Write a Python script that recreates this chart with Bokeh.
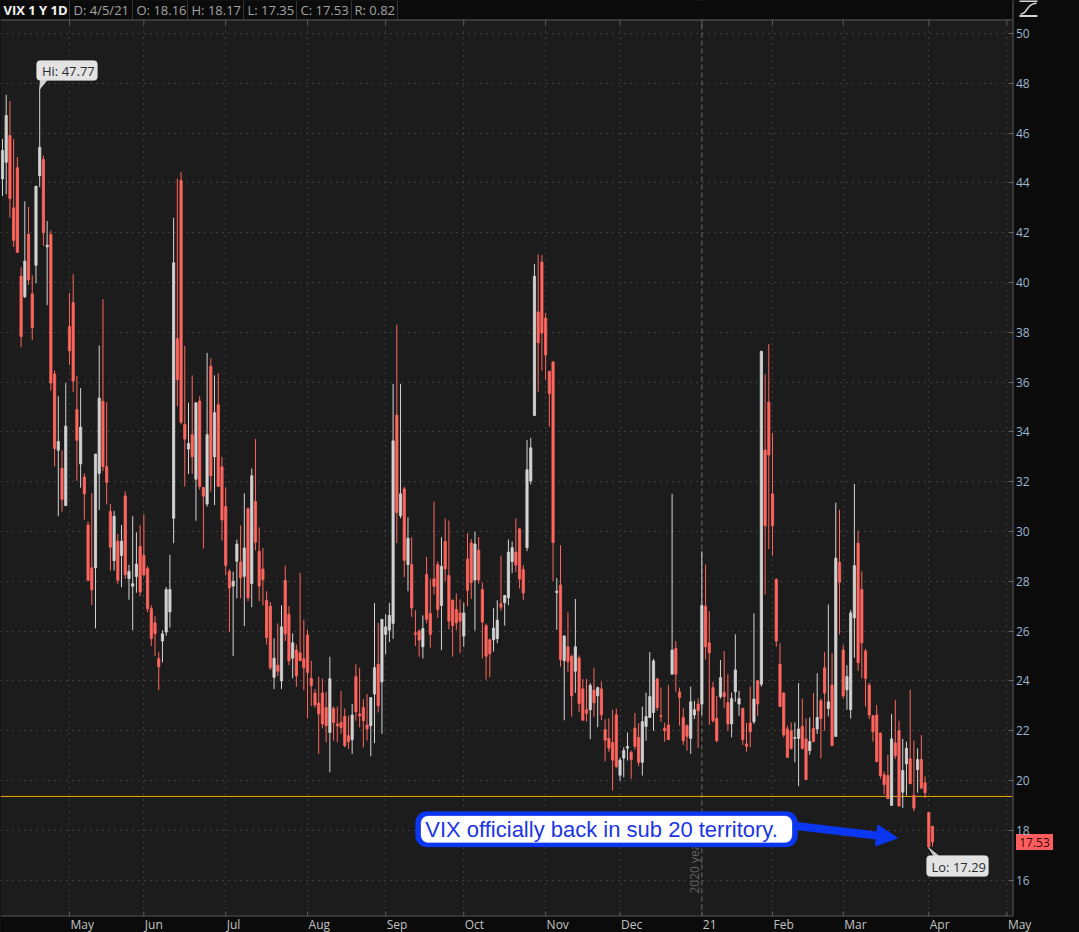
import numpy as np
from bokeh.plotting import figure
from bokeh.models import (ColumnDataSource, LinearAxis, FixedTicker, Grid, Span, BoxAnnotation,
                          Label, Arrow, NormalHead, Range1d, GlobalInlineStyleSheet)
from bokeh.core.properties import value
from bokeh.embed import file_html
from bokeh.resources import INLINE

# ---------------- data (VIX daily, 4/6/2020 .. 4/5/2021) ----------------
opens = [
    44.16, 44.83, 45.90, 43.00, 44.61, 40.26, 39.43, 41.94, 39.54, 40.69,
    44.29, 44.94, 41.43, 41.94, 36.33, 33.26, 32.54, 31.04, 38.23, 39.19,
    34.90, 32.71, 32.19, 30.26, 28.54, 28.54, 32.33, 35.23, 32.61, 30.80,
    28.83, 29.61, 29.04, 31.43, 28.11, 27.80, 28.19, 29.40, 29.04, 28.51,
    26.90, 26.33, 24.89, 25.60, 25.96, 26.77, 30.53, 37.74, 44.10, 34.31,
    33.31, 33.89, 32.10, 35.24, 31.77, 31.10, 36.64, 33.00, 35.09, 32.60,
    31.00, 28.39, 27.81, 28.81, 28.77, 28.20, 30.91, 27.91, 31.20, 29.20,
    28.49, 27.24, 27.00, 24.14, 24.63, 24.00, 28.03, 26.67, 24.91, 25.24,
    25.13, 24.89, 25.84, 24.10, 23.51, 23.11, 23.51, 22.93, 21.93, 22.89,
    22.27, 22.33, 22.57, 21.80, 21.64, 24.17, 22.67, 22.93, 22.23, 22.20,
    23.47, 24.67, 23.96, 25.87, 26.04, 26.31, 34.67, 30.63, 31.71, 28.67,
    28.67, 25.93, 26.00, 25.37, 28.27, 26.71, 28.10, 28.67, 27.03, 29.60,
    28.23, 27.24, 26.87, 26.73, 25.80, 28.89, 29.54, 28.05, 29.25, 27.67,
    26.22, 25.65, 25.65, 25.70, 27.10, 27.14, 27.34, 28.79, 29.17, 30.10,
    28.47, 29.35, 32.03, 34.66, 38.82, 40.82, 38.57, 36.43, 36.81, 27.55,
    27.85, 24.81, 25.37, 24.99, 24.39, 24.92, 23.68, 22.84, 22.84, 23.63,
    23.40, 23.68, 22.04, 21.69, 21.52, 22.64, 20.21, 20.90, 21.30, 21.13,
    22.10, 21.73, 20.73, 22.17, 22.53, 22.73, 24.07, 22.60, 22.10, 22.23,
    24.27, 25.30, 23.56, 22.53, 22.20, 21.69, 22.63, 23.07, 23.07, 27.00,
    25.53, 23.73, 22.49, 23.37, 23.53, 23.13, 22.27, 23.56, 23.07, 22.89,
    21.47, 22.31, 22.36, 24.00, 23.87, 33.27, 35.20, 31.51, 28.07, 24.67,
    23.51, 22.07, 22.00, 21.69, 21.69, 22.17, 21.67, 21.20, 22.09, 22.07,
    23.20, 24.53, 22.89, 23.83, 21.77, 28.76, 25.24, 23.64, 22.84, 26.53,
    29.53, 27.67, 25.20, 23.83, 22.60, 22.63, 21.90, 20.23, 20.20, 19.00,
    21.51, 22.00, 19.53, 20.67, 20.87, 19.40, 20.44, 20.84, 19.91, 18.71,
    18.16,
]
highs = [
    45.76, 47.54, 47.29, 45.76, 45.04, 40.61, 43.26, 43.04, 40.29, 43.87,
    47.77, 45.09, 42.47, 42.09, 36.47, 35.43, 33.26, 35.97, 39.57, 40.33,
    36.26, 35.76, 32.33, 30.40, 31.54, 33.11, 37.47, 39.33, 35.19, 31.11,
    30.83, 29.90, 30.26, 31.61, 28.66, 30.61, 29.97, 30.26, 30.69, 28.61,
    27.04, 26.60, 25.17, 26.03, 27.77, 29.06, 42.60, 44.17, 44.43, 37.46,
    35.17, 36.27, 35.17, 35.43, 31.77, 37.17, 36.96, 36.27, 36.36, 33.00,
    31.77, 28.49, 28.39, 29.67, 30.24, 31.53, 30.96, 32.53, 33.71, 30.17,
    29.34, 27.60, 27.17, 25.71, 26.31, 27.03, 28.63, 27.00, 25.91, 25.46,
    28.34, 26.46, 26.06, 24.81, 23.67, 24.17, 24.09, 23.56, 24.97, 22.97,
    22.97, 23.60, 22.89, 22.60, 23.07, 24.67, 24.53, 23.27, 23.47, 23.33,
    27.13, 26.33, 26.49, 26.67, 27.13, 35.93, 38.31, 35.93, 31.80, 30.57,
    29.77, 26.84, 26.07, 26.63, 28.97, 28.10, 31.20, 28.80, 29.77, 30.53,
    30.44, 27.27, 27.51, 27.27, 27.13, 29.93, 29.70, 29.99, 29.78, 27.95,
    26.30, 25.70, 26.92, 27.24, 29.03, 27.45, 29.68, 29.59, 30.52, 30.15,
    28.65, 33.67, 33.76, 40.75, 41.13, 41.10, 38.78, 36.46, 36.85, 28.13,
    29.45, 25.84, 26.75, 25.06, 27.29, 25.03, 24.08, 24.08, 23.91, 24.53,
    23.77, 23.97, 22.46, 22.50, 22.84, 22.88, 20.91, 21.33, 21.93, 21.20,
    22.71, 22.31, 22.97, 23.53, 25.16, 24.89, 24.13, 23.73, 22.33, 23.83,
    31.51, 25.60, 23.73, 22.90, 22.25, 23.77, 23.20, 23.30, 29.20, 28.67,
    26.80, 23.96, 23.40, 24.84, 25.20, 24.27, 23.53, 25.87, 23.60, 22.93,
    22.31, 23.77, 26.71, 24.04, 37.24, 36.31, 37.53, 33.96, 28.13, 25.51,
    23.55, 22.20, 22.33, 22.33, 23.91, 23.29, 22.49, 22.53, 23.51, 24.31,
    23.29, 25.16, 27.07, 25.11, 31.16, 30.87, 25.43, 24.63, 26.84, 31.91,
    30.04, 28.40, 25.29, 23.93, 22.63, 23.03, 21.93, 20.36, 21.03, 22.67,
    23.24, 22.40, 21.67, 21.56, 23.64, 21.60, 21.29, 21.83, 20.17, 18.73,
    18.17,
]
lows = [
    43.47, 43.54, 42.61, 41.43, 41.20, 37.40, 39.37, 39.90, 37.69, 39.97,
    43.83, 41.47, 39.09, 35.66, 32.61, 30.61, 30.80, 31.04, 36.69, 35.61,
    32.04, 31.76, 30.47, 28.00, 27.04, 26.11, 30.86, 32.43, 31.09, 28.43,
    28.43, 27.90, 27.76, 28.11, 27.26, 26.04, 27.54, 27.40, 28.19, 26.76,
    25.40, 25.00, 23.63, 24.74, 25.81, 26.14, 29.53, 35.03, 34.31, 31.81,
    32.31, 32.31, 30.43, 31.67, 29.31, 31.00, 31.60, 31.06, 31.81, 29.63,
    28.24, 25.96, 25.00, 27.31, 27.31, 26.20, 27.20, 26.96, 29.24, 27.20,
    27.03, 25.46, 24.43, 23.67, 24.20, 23.67, 25.60, 24.63, 24.10, 23.77,
    24.81, 23.63, 22.49, 22.99, 22.93, 21.07, 22.09, 21.53, 20.33, 21.60,
    21.53, 21.87, 21.33, 21.27, 21.07, 22.40, 22.13, 21.33, 21.60, 20.97,
    21.50, 22.73, 21.87, 25.07, 25.56, 25.69, 29.53, 30.53, 28.17, 27.60,
    26.57, 25.40, 24.97, 24.90, 26.31, 25.33, 27.47, 26.53, 25.24, 28.00,
    26.07, 24.97, 26.04, 25.11, 25.37, 27.00, 27.29, 26.02, 27.90, 24.90,
    24.05, 24.15, 25.18, 25.51, 26.82, 26.22, 27.04, 28.33, 28.37, 27.71,
    27.24, 29.21, 31.89, 34.66, 35.61, 36.46, 36.10, 34.21, 28.02, 26.05,
    24.57, 22.42, 24.36, 22.56, 23.52, 22.74, 22.42, 22.36, 21.66, 22.56,
    22.14, 22.42, 20.77, 21.15, 19.60, 20.49, 19.99, 20.13, 20.80, 20.07,
    21.24, 20.57, 20.20, 21.60, 22.53, 22.00, 22.80, 22.36, 21.56, 21.64,
    24.27, 23.56, 22.20, 21.43, 21.20, 21.07, 22.47, 21.30, 22.63, 24.87,
    22.23, 22.33, 21.53, 23.29, 22.90, 22.00, 21.73, 23.16, 22.60, 21.43,
    21.16, 21.33, 22.27, 22.60, 23.77, 27.47, 29.29, 29.03, 25.37, 22.97,
    21.73, 20.93, 21.24, 20.73, 19.77, 21.24, 20.04, 21.03, 21.56, 21.87,
    20.89, 22.00, 22.57, 21.40, 21.77, 25.87, 23.30, 22.84, 22.49, 24.93,
    24.40, 24.10, 22.97, 22.47, 21.56, 20.73, 20.07, 19.43, 19.27, 19.00,
    20.87, 18.97, 18.89, 19.40, 19.87, 18.76, 19.51, 19.69, 19.29, 17.29,
    17.35,
]
closes = [
    45.30, 46.71, 43.37, 41.69, 41.21, 37.83, 40.86, 40.11, 38.19, 43.87,
    45.43, 42.00, 41.50, 35.97, 33.33, 33.61, 31.29, 34.23, 37.26, 36.04,
    33.66, 34.19, 31.51, 28.04, 27.66, 33.11, 35.36, 32.61, 31.97, 29.37,
    30.61, 28.04, 29.61, 28.26, 28.40, 27.90, 28.69, 27.57, 28.26, 26.90,
    25.70, 25.89, 24.57, 25.89, 27.67, 27.67, 40.79, 36.10, 34.39, 33.71,
    33.53, 33.00, 35.17, 31.81, 31.42, 33.89, 32.24, 34.77, 31.81, 30.46,
    28.64, 27.74, 28.00, 29.49, 28.14, 29.34, 27.34, 32.24, 29.57, 27.81,
    28.06, 25.74, 24.53, 24.91, 24.39, 26.17, 25.89, 24.81, 25.53, 24.20,
    24.81, 24.53, 24.34, 23.81, 23.03, 22.67, 22.27, 22.20, 24.09, 22.33,
    22.20, 22.13, 21.40, 21.56, 22.63, 22.76, 22.60, 22.40, 22.07, 23.33,
    24.53, 23.00, 26.47, 26.17, 26.63, 33.64, 30.76, 31.51, 28.84, 29.73,
    26.93, 25.87, 25.64, 26.10, 26.47, 25.87, 27.80, 26.87, 28.60, 28.50,
    26.40, 26.23, 26.33, 26.40, 26.73, 27.64, 27.95, 29.50, 28.05, 26.36,
    24.99, 25.09, 26.12, 26.44, 26.96, 27.43, 29.17, 29.35, 28.65, 28.09,
    27.53, 32.48, 33.36, 40.25, 37.58, 37.97, 37.09, 35.54, 29.56, 27.60,
    24.85, 25.80, 24.78, 23.40, 25.37, 23.09, 22.42, 22.70, 23.82, 23.12,
    23.73, 22.64, 21.62, 21.30, 20.82, 20.56, 20.82, 21.20, 21.37, 20.84,
    21.37, 20.73, 22.36, 22.57, 23.37, 24.80, 22.93, 22.57, 22.00, 21.64,
    25.24, 24.27, 23.33, 21.60, 21.77, 23.16, 22.84, 22.80, 27.03, 25.37,
    25.13, 22.40, 21.60, 24.13, 23.37, 22.27, 23.29, 24.44, 23.29, 21.64,
    21.37, 21.96, 23.27, 23.07, 37.24, 30.23, 33.07, 30.23, 25.60, 22.97,
    21.83, 20.93, 21.29, 21.73, 22.07, 21.29, 20.04, 21.56, 21.56, 22.53,
    22.49, 23.51, 23.16, 21.40, 28.93, 27.96, 23.40, 24.17, 26.73, 28.63,
    24.73, 25.53, 24.10, 22.63, 21.96, 20.76, 20.20, 19.83, 19.27, 21.67,
    21.00, 18.97, 20.40, 21.29, 19.87, 18.89, 20.84, 19.69, 19.51, 17.33,
    17.53,
]
# trading-day index of the first session of each month, and the axis labels
month_start_index = [18, 38, 60, 82, 103, 124, 146, 166, 188, 207, 226, 249, 270]
month_labels = ["May", "Jun", "Jul", "Aug", "Sep", "Oct", "Nov", "Dec", "21", "Feb", "Mar", "Apr", "May"]
year_break_index = 188
price_ticks = list(range(16, 51, 2))
support_level = 19.36
symbol_title = "VIX 1 Y 1D"
last_date = "4/5/21"
callout_text = "VIX officially back in sub 20 territory."
year_text = "2020 year"

# ---------------- layout helpers (pixel -> data) ----------------
W, H = 1079, 932
PLOT_RIGHT = 1012     # right edge of the price pane
PLOT_BOTTOM = 915     # bottom edge of the price pane
HEADER_H = 19


def X(px):
    return (px - 2.0) / 3.72


def Y(py):
    return 50.0 - (py - 33.0) / 24.9


FONT = "Open Sans"
UP, DOWN = "#d3d3d3", "#ff665e"
BLUE = "#0b36f2"
DARK = "#0b0b0b"
FRAME_LINE = "#5c5c5c"

p = figure(width=W, height=H, output_backend="svg", toolbar_location=None,
           x_range=Range1d(X(0), X(W)), y_range=Range1d(Y(H), Y(0)),
           x_axis_type=None, y_axis_type=None,
           min_border=0, min_border_left=0, min_border_top=0, min_border_bottom=0,
           min_border_right=0,
           background_fill_color="#1c1c1c", border_fill_color=DARK,
           outline_line_color=None)
p.center = [r for r in p.center if not isinstance(r, Grid)]
p.stylesheets = [GlobalInlineStyleSheet(
    css="html,body{margin:0 !important;padding:0;background:#0b0b0b;overflow:hidden;}")]

# dotted grids
p.add_layout(Grid(dimension=1, ticker=FixedTicker(ticks=price_ticks),
                  grid_line_color="#5e5e5e", grid_line_dash="1 5", grid_line_width=1))
p.add_layout(Grid(dimension=0, ticker=FixedTicker(ticks=[m for m in month_start_index if m != year_break_index]),
                  grid_line_color="#5e5e5e", grid_line_dash="1 5", grid_line_width=1))
p.add_layout(Span(location=year_break_index, dimension="height", line_color="#707070",
                  line_dash="5 3", line_width=1, level="underlay"))

# support line (under the candles)
p.segment(x0=[X(0)], y0=[support_level], x1=[X(PLOT_RIGHT)], y1=[support_level],
          line_color="#f0a800", line_width=1)

# year label (behind the callout)
p.text(x=[X(694)], y=[Y(893)], text=[year_text], angle=np.pi / 2,
       text_align="left", text_baseline="middle", text_color="#626262",
       text_font=value(FONT), text_font_size="12px")

# candles
day = list(range(len(opens)))
colors = [UP if c >= o else DOWN for o, c in zip(opens, closes)]
src = ColumnDataSource(dict(day=day, o=opens, h=highs, l=lows, c=closes,
                            top=[max(o, c) for o, c in zip(opens, closes)],
                            bot=[min(o, c) for o, c in zip(opens, closes)],
                            color=colors))
p.segment(x0="day", y0="l", x1="day", y1="h", line_color="color", line_width=1, source=src)
p.vbar(x="day", width=0.6, top="top", bottom="bot", fill_color="color",
       line_color="color", line_width=0.8, source=src)

# dark header strip, bottom strip and right axis strip
xs, xe = X(0), X(PLOT_RIGHT)
p.quad(left=[xs, xs, X(PLOT_RIGHT + 0.5)], right=[xe, xe, X(W)],
       top=[Y(0), Y(PLOT_BOTTOM), Y(0)], bottom=[Y(HEADER_H), Y(H), Y(H)],
       fill_color=DARK, line_color=None)
n = len(month_start_index)
# pane border lines
p.segment(x0=[xs, xs, X(PLOT_RIGHT + 0.5)], y0=[Y(HEADER_H + 0.5), Y(PLOT_BOTTOM + 0.5), Y(0)],
          x1=[xe, xe, X(PLOT_RIGHT + 0.5)], y1=[Y(HEADER_H + 0.5), Y(PLOT_BOTTOM + 0.5), Y(PLOT_BOTTOM + 0.5)],
          line_color=FRAME_LINE, line_width=1)
# month ticks on top and bottom border
p.segment(x0=month_start_index, y0=[Y(HEADER_H + 0.5)] * n, x1=month_start_index, y1=[Y(HEADER_H + 5.5)] * n,
          line_color=FRAME_LINE, line_width=1)
p.segment(x0=month_start_index, y0=[Y(PLOT_BOTTOM + 0.5)] * n, x1=month_start_index, y1=[Y(PLOT_BOTTOM - 4)] * n,
          line_color=FRAME_LINE, line_width=1)
# header separators
sep_px = [69, 132, 187, 243, 296, 351, 397]
p.segment(x0=[X(s) for s in sep_px], y0=[Y(0)] * len(sep_px), x1=[X(s) for s in sep_px],
          y1=[Y(HEADER_H - 0.5)] * len(sep_px), line_color="#343434", line_width=1)

# header texts
p.text(x=[X(3)], y=[Y(9.5)], text=[symbol_title], text_font=value(FONT), text_font_style="bold",
       text_font_size="13px", text_color="#f2f2f2", text_baseline="middle", text_align="left")
hdr = [f"D: {last_date}", f"O: {opens[-1]:.2f}", f"H: {highs[-1]:.2f}", f"L: {lows[-1]:.2f}",
       f"C: {closes[-1]:.2f}", f"R: {highs[-1] - lows[-1]:.2f}"]
hdr_px = [73, 136, 191, 247, 300, 354]
p.text(x=[X(v) for v in hdr_px], y=[Y(9.5)] * len(hdr), text=hdr, text_font=value(FONT),
       text_font_size="13px", text_color="#a3a3a3", text_baseline="middle", text_align="left")

# chart-style icon at the top right
icon_x = [X(v) for v in [1020, 1022, 1024, 1026, 1028, 1030, 1032, 1034, 1036]]
icon_y = [Y(v) for v in [13.5, 13.2, 12.0, 9.5, 6.8, 4.8, 3.6, 3.0, 2.8]]
p.line(x=icon_x, y=icon_y, line_color="#d6d6d6", line_width=1.5)
p.segment(x0=[X(1019), X(1019)], y0=[Y(15.5), Y(0.5)], x1=[X(1037), X(1037)], y1=[Y(15.5), Y(0.5)],
          line_color="#d6d6d6", line_width=2)

# month labels (left aligned on their tick, below the price pane)
p.text(x=month_start_index, y=[Y(923.5)] * n, text=month_labels, x_offset=1,
       text_font=value(FONT), text_font_size="12px", text_color="#c2c2c2",
       text_align="left", text_baseline="middle")

# right price axis, pinned to the pane's right edge
yax = LinearAxis(ticker=FixedTicker(ticks=price_ticks), fixed_location=X(PLOT_RIGHT + 0.5),
                 axis_line_color=None, major_tick_line_color="#6a6a6a",
                 major_tick_in=4, major_tick_out=0, minor_tick_line_color=None,
                 major_label_text_color="#9db6d1", major_label_text_font=FONT,
                 major_label_text_font_size="12px", major_label_standoff=3)
p.add_layout(yax, "right")

# last price tag
tag_half = 8.0 / 24.9
p.quad(left=[X(1015.5)], right=[X(1052.5)], top=[closes[-1] + tag_half], bottom=[closes[-1] - tag_half],
       fill_color="#ff5e5e", line_color=None)
p.text(x=[X(1034)], y=[closes[-1]], text=[f"{closes[-1]:.2f}"], text_font=value(FONT),
       text_font_size="12px", text_color="#3a0505", text_align="center", text_baseline="middle")

# Hi / Lo callouts
hi_i = int(np.argmax(highs))
hi_v = highs[hi_i]
lo_i = int(np.argmin(lows))
lo_v = lows[lo_i]
p.patch(x=[X(40), X(47), hi_i], y=[Y(79), Y(79), hi_v], fill_color="#d6d6d6", line_color="#d6d6d6")
p.patch(x=[lo_i, X(934), X(939)], y=[lo_v, Y(856), Y(856)], fill_color="#cfcfcf", line_color="#cfcfcf")
p.add_layout(BoxAnnotation(left=X(36), right=X(97), top=Y(60), bottom=Y(80), fill_color="#e3e3e3",
                           fill_alpha=1, line_color="#c4c4c4", line_width=1, border_radius=4))
p.add_layout(Label(x=X(41.5), y=Y(70), text=f"Hi: {hi_v:.2f}", text_font=FONT, text_font_size="13px",
                   text_color="#2c2c2c", text_align="left", text_baseline="middle"))
p.add_layout(BoxAnnotation(left=X(926), right=X(988), top=Y(855), bottom=Y(876), fill_color="#e3e3e3",
                           fill_alpha=1, line_color="#c4c4c4", line_width=1, border_radius=4))
p.add_layout(Label(x=X(931), y=Y(866), text=f"Lo: {lo_v:.2f}", text_font=FONT, text_font_size="13px",
                   text_color="#2c2c2c", text_align="left", text_baseline="middle"))

# annotation callout + arrow
p.add_layout(Arrow(end=NormalHead(size=21, fill_color=BLUE, line_color=BLUE, line_width=1),
                   x_start=X(796), y_start=Y(825.5), x_end=X(897), y_end=Y(837.5),
                   line_color=BLUE, line_width=8))
# thick blue frame: outer blue rounded box with an inset white rounded box
p.add_layout(BoxAnnotation(left=X(415), right=X(797), top=Y(811), bottom=Y(846.5),
                           fill_color=BLUE, fill_alpha=1, line_color=BLUE, line_width=1,
                           border_radius=11))
p.add_layout(BoxAnnotation(left=X(420.5), right=X(791.5), top=Y(815.5), bottom=Y(842),
                           fill_color="white", fill_alpha=1, line_color="white", line_width=1,
                           border_radius=7))
p.add_layout(Label(x=X(601), y=Y(828.5), text=callout_text, text_font="Liberation Sans",
                   text_font_size="22px", text_color="#1a36e4", text_align="center",
                   text_baseline="middle"))

open("out.html", "w").write(file_html(p, INLINE))
